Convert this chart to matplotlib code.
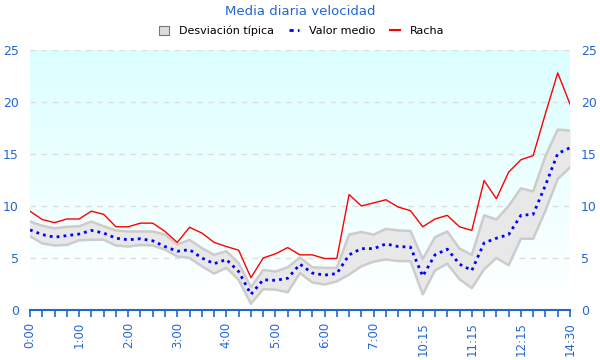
import matplotlib
matplotlib.use("Agg")
import matplotlib.pyplot as plt
import numpy as np
from matplotlib.patches import Patch
from matplotlib.lines import Line2D

horas = ["0:00", "0:15", "0:30", "0:45", "1:00", "1:15", "1:30", "1:45",
         "2:00", "2:15", "2:30", "2:45", "3:00", "3:15", "3:30", "3:45",
         "4:00", "4:15", "4:30", "4:45", "5:00", "5:15", "5:30", "5:45",
         "6:00", "6:15", "6:30", "6:45", "7:00", "7:15", "7:30", "7:45",
         "10:15", "10:30", "10:45", "11:00", "11:15", "11:30", "11:45", "12:00",
         "12:15", "12:45", "13:15", "13:45", "14:30"]

racha = [9.5, 8.7, 8.4, 8.75, 8.75, 9.5, 9.2, 8.0, 8.0, 8.35,
         8.35, 7.55, 6.5, 7.95, 7.4, 6.5, 6.1, 5.75, 3.1, 5.0,
         5.4, 6.0, 5.3, 5.3, 4.95, 4.95, 11.1, 10.0, 10.3, 10.6,
         9.9, 9.55, 8.0, 8.75, 9.1, 8.0, 7.65, 12.45, 10.7, 13.25,
         14.45, 14.85, 18.9, 22.8, 19.8]

media = [7.7, 7.25, 7.0, 7.15, 7.3, 7.65, 7.4, 6.9, 6.75, 6.85,
         6.65, 6.1, 5.65, 5.8, 5.0, 4.45, 4.85, 3.7, 1.5, 2.9,
         2.85, 3.05, 4.4, 3.55, 3.35, 3.5, 5.3, 5.9, 5.9, 6.35,
         6.1, 6.05, 3.25, 5.3, 5.85, 4.4, 3.8, 6.45, 6.9, 7.25,
         9.1, 9.2, 12.0, 15.05, 15.6]

desv_sup = [8.5, 8.1, 7.85, 8.0, 8.05, 8.5, 8.05, 7.65, 7.55, 7.55,
            7.55, 7.25, 6.3, 6.75, 5.95, 5.3, 5.65, 4.5, 2.2, 3.85,
            3.7, 4.1, 5.05, 4.1, 4.05, 4.05, 7.25, 7.5, 7.25, 7.8,
            7.65, 7.6, 4.9, 7.0, 7.55, 5.9, 5.3, 9.1, 8.7, 10.0,
            11.7, 11.4, 14.8, 17.35, 17.25]

desv_inf = [7.1, 6.4, 6.2, 6.25, 6.7, 6.75, 6.75, 6.2, 6.1, 6.25,
            6.2, 5.8, 5.15, 5.0, 4.2, 3.5, 4.05, 2.9, 0.6, 2.0,
            1.95, 1.7, 3.55, 2.65, 2.45, 2.75, 3.4, 4.2, 4.65, 4.85,
            4.7, 4.7, 1.5, 3.8, 4.45, 2.95, 2.1, 3.9, 5.0, 4.3,
            6.85, 6.85, 9.55, 12.6, 13.7]

azul = "#2266d6"
x = np.arange(len(horas))

fig = plt.figure(figsize=(6, 3.6), dpi=100)
ax = fig.add_axes([0.05, 0.139, 0.9, 0.722])

# fondo degradado cian -> blanco
grad = np.linspace(1, 0, 256).reshape(-1, 1)
top = np.array([0.86, 1.0, 1.0])
bot = np.array([1.0, 1.0, 1.0])
img = bot + (top - bot) * grad[..., None]
ax.imshow(img, extent=[0, 1, 0, 1], transform=ax.transAxes, aspect="auto", zorder=0)

for v in [5, 10, 15, 20, 25]:
    ax.axhline(v, color="#dddddd", lw=1, ls=(0, (4, 4)), zorder=1)

ax.fill_between(x, desv_inf, desv_sup, color="#e8e8e8", lw=0, zorder=2)
ax.plot(x, desv_sup, color="#cccccc", lw=1.8, zorder=3)
ax.plot(x, desv_inf, color="#cccccc", lw=1.8, zorder=3)
ax.plot(x, media, color="blue", lw=2, ls=(0, (1, 1.5)), zorder=4)
ax.plot(x, racha, color="red", lw=1, zorder=5)

ax.set_xlim(0, len(horas) - 1)
ax.set_ylim(0, 25)
ax.set_yticks([0, 5, 10, 15, 20, 25])
ax.set_xticks(x)
ax.set_xticklabels([h if i % 4 == 0 else "" for i, h in enumerate(horas)],
                   rotation=90, fontsize=8.5, color=azul)
ax.tick_params(axis="x", colors=azul, length=5, width=1.2, labelcolor=azul)
ax.tick_params(axis="y", length=0, labelsize=9, labelcolor=azul, pad=8,
               left=True, right=True, labelleft=True, labelright=True)
for s in ["top", "left", "right"]:
    ax.spines[s].set_visible(False)
ax.spines["bottom"].set_color(azul)
ax.spines["bottom"].set_linewidth(1.5)
ax.spines["bottom"].set_zorder(6)

fig.text(0.5, 0.967, "Media diaria velocidad", ha="center", va="center",
         fontsize=9.5, color=azul)

handles = [Patch(facecolor="#dddddd", edgecolor="#777777", lw=0.8),
           Line2D([], [], color="blue", lw=2, ls=(0, (1.5, 1.5))),
           Line2D([], [], color="red", lw=1.5)]
fig.legend(handles, ["Desviación típica", "Valor medio", "Racha"],
           loc="center", bbox_to_anchor=(0.503, 0.914), ncol=3, frameon=False,
           fontsize=8, handlelength=0.9, handleheight=0.8, columnspacing=1.3,
           handletextpad=0.9)

fig.savefig("out.png", dpi=100)
